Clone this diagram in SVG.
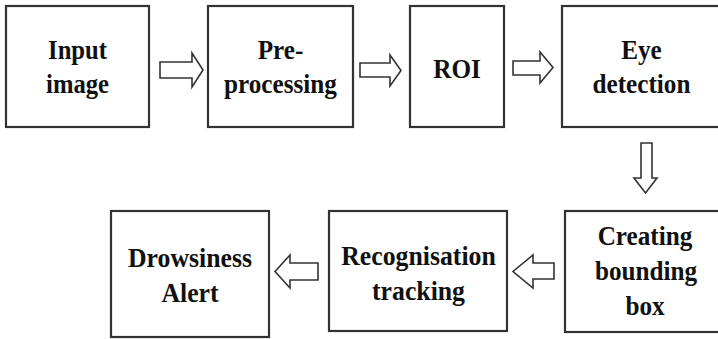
<svg xmlns="http://www.w3.org/2000/svg" width="718" height="339" viewBox="0 0 718 339">
<style>
.box{fill:#fff;stroke:#333;stroke-width:2.2}
.arr{fill:#fff;stroke:#333;stroke-width:1.6;stroke-linejoin:miter}
</style>
<rect width="718" height="339" fill="#fff"/>
<g font-family="Liberation Serif, DejaVu Serif, serif" font-weight="bold" font-size="28" fill="#111" text-anchor="middle">
<g id="n-input">
<rect class="box" x="6" y="6" width="143" height="121"/>
<text transform="matrix(0.88 0 0 1 77.5 0)" x="0" y="59">Input</text>
<text transform="matrix(0.88 0 0 1 77.5 0)" x="0" y="93">image</text>
</g>
<g id="n-pre">
<rect class="box" x="208" y="6" width="145" height="121"/>
<text transform="matrix(0.9 0 0 1 280.5 0)" x="0" y="59">Pre-</text>
<text transform="matrix(0.9 0 0 1 280.5 0)" x="0" y="93">processing</text>
</g>
<g id="n-roi">
<rect class="box" x="410" y="6" width="94" height="121"/>
<text transform="matrix(0.9 0 0 1 457 0)" x="0" y="78">ROI</text>
</g>
<g id="n-eye">
<rect class="box" x="562" y="6" width="165" height="121"/>
<text transform="matrix(0.9 0 0 1 641.5 0)" x="0" y="59">Eye</text>
<text transform="matrix(0.9 0 0 1 641.5 0)" x="0" y="93">detection</text>
</g>
<g id="n-bbox">
<rect class="box" x="565" y="211" width="165" height="121"/>
<text transform="matrix(0.9 0 0 1 645 0)" x="0" y="245">Creating</text>
<text transform="matrix(0.9 0 0 1 646 0)" x="0" y="280">bounding</text>
<text transform="matrix(0.9 0 0 1 645 0)" x="0" y="315">box</text>
</g>
<g id="n-recog">
<rect class="box" x="329" y="211" width="178" height="120"/>
<text transform="matrix(0.92 0 0 1 418.5 0)" x="0" y="265">Recognisation</text>
<text transform="matrix(0.92 0 0 1 418.5 0)" x="0" y="300">tracking</text>
</g>
<g id="n-alert">
<rect class="box" x="111" y="211" width="158" height="126"/>
<text transform="matrix(0.92 0 0 1 190 0)" x="0" y="267">Drowsiness</text>
<text transform="matrix(0.92 0 0 1 190 0)" x="0" y="302">Alert</text>
</g>
</g>
<g id="connectors">
<polygon class="arr" points="160,62 192,62 192,53 203,70 192,87 192,78 160,78"/>
<polygon class="arr" points="360,63 390,63 390,55 401,70.5 390,86 390,77 360,77"/>
<polygon class="arr" points="513,61 540,61 540,52 553,67.5 540,83 540,75 513,75"/>
<polygon class="arr" points="641,143 652,143 652,178 657,178 645.5,193 634,178 641,178"/>
<polygon class="arr" points="554,263 533,263 533,255 513,271.5 533,288 533,279 554,279"/>
<polygon class="arr" points="318,263 290,263 290,255 275,271.5 290,288 290,280 318,280"/>
</g>
</svg>
